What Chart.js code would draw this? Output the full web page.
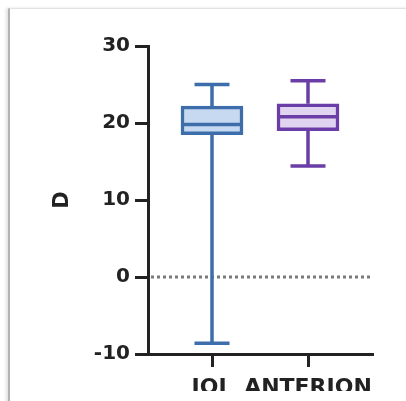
<!DOCTYPE html>
<html>
<head>
<meta charset="utf-8">
<script src="https://cdn.jsdelivr.net/npm/chart.js@4.4.0/dist/chart.umd.min.js"></script>
<style>
  body { margin: 0; background: #fff; }
  #wrap { position: relative; width: 406px; height: 401px; overflow: hidden; }
  #frame {
    position: absolute; left: 8px; top: 8px; width: 400px; height: 400px;
    border-left: 2px solid #b3b3b3; border-top: 1px solid #e2e2e2;
    box-shadow: -2px 0 3px rgba(0,0,0,0.12);
  }
  /* hinh goc bi cat o duoi */
  #clip { position: absolute; left: 0; top: 0; width: 406px; height: 391px; overflow: hidden; }
  #boxChart { position: absolute; left: 0; top: 0; }
</style>
</head>
<body>
<div id="wrap">
  <div id="frame"></div>
  <div id="clip">
    <canvas id="boxChart" width="406" height="401"></canvas>
  </div>
</div>
<script>
// du lieu doc tu hinh
var groups = ['IOL', 'ANTERION'];
var mins = [-8.6, 14.4];
var q1s = [18.5, 19.0];
var medians = [19.8, 20.8];
var q3s = [22.2, 22.5];
var maxs = [25.0, 25.5];
var yTicks = [-10, 0, 10, 20, 30];
var lineColors = ['#3d6eab', '#6a3ea6'];
var fillColors = ['#c6d9f0', '#e0d4f0'];

var axisColor = '#222';
var fontFam = "'DejaVu Sans', sans-serif";

// ve rau (whisker), duong 0 va trung vi bang scale cua chart
var boxWhiskers = {
    id: 'boxWhiskers',
    beforeDatasetsDraw(chart) {
        var ctx = chart.ctx;
        var x = chart.scales.x, y = chart.scales.y;
        var area = chart.chartArea;
        ctx.save();
        // duong cham tai 0
        ctx.strokeStyle = '#7a7a7a';
        ctx.lineWidth = 3;
        ctx.setLineDash([3, 3]);
        ctx.beginPath();
        ctx.moveTo(area.left + 3, y.getPixelForValue(0));
        ctx.lineTo(area.right, y.getPixelForValue(0));
        ctx.stroke();
        ctx.setLineDash([]);
        groups.forEach((g, i) => {
            var px = x.getPixelForValue(i);
            var capHalf = 17.5;
            ctx.strokeStyle = lineColors[i];
            ctx.lineWidth = 3.5;
            ctx.beginPath();
            ctx.moveTo(px, y.getPixelForValue(maxs[i]));
            ctx.lineTo(px, y.getPixelForValue(q3s[i]));
            ctx.moveTo(px, y.getPixelForValue(q1s[i]));
            ctx.lineTo(px, y.getPixelForValue(mins[i]));
            ctx.moveTo(px - capHalf, y.getPixelForValue(maxs[i]));
            ctx.lineTo(px + capHalf, y.getPixelForValue(maxs[i]));
            ctx.moveTo(px - capHalf, y.getPixelForValue(mins[i]));
            ctx.lineTo(px + capHalf, y.getPixelForValue(mins[i]));
            ctx.stroke();
        });
        ctx.restore();
    },
    afterDatasetsDraw(chart) {
        var ctx = chart.ctx;
        var y = chart.scales.y;
        var meta = chart.getDatasetMeta(0);
        ctx.save();
        groups.forEach((g, i) => {
            var bar = meta.data[i];
            var half = bar.width / 2;
            var py = y.getPixelForValue(medians[i]);
            ctx.strokeStyle = lineColors[i];
            ctx.lineWidth = 3.5;
            ctx.beginPath();
            ctx.moveTo(bar.x - half, py);
            ctx.lineTo(bar.x + half, py);
            ctx.stroke();
        });
        ctx.restore();
    }
};

var ctx = document.getElementById('boxChart').getContext('2d');
new Chart(ctx, {
    type: 'bar',
    data: {
        datasets: [{
            data: groups.map((g, i) => ({ x: i, y: [q1s[i], q3s[i]] })),
            backgroundColor: fillColors,
            borderColor: lineColors,
            borderWidth: 3.5,
            borderSkipped: false,
            barThickness: 62
        }]
    },
    options: {
        responsive: false,
        animation: false,
        layout: {
            padding: { left: 40, top: 46, right: 34, bottom: 0 }
        },
        plugins: {
            legend: { display: false },
            tooltip: { enabled: false }
        },
        scales: {
            x: {
                type: 'linear',
                min: -2 / 3,
                max: 5 / 3,
                offset: false,
                afterBuildTicks: function (scale) {
                    scale.ticks = groups.map((g, i) => ({ value: i }));
                },
                afterFit: function (scale) { scale.height = 47; },
                grid: {
                    offset: false,
                    drawOnChartArea: false,
                    drawTicks: true,
                    tickLength: 13,
                    lineWidth: 3,
                    color: axisColor
                },
                border: { color: axisColor, width: 3 },
                ticks: {
                    padding: 8,
                    color: axisColor,
                    maxRotation: 0,
                    autoSkip: false,
                    font: { family: fontFam, size: 22, weight: 'bold' },
                    callback: function (value) { return groups[value]; }
                }
            },
            y: {
                min: -10,
                max: 30,
                afterBuildTicks: function (scale) {
                    scale.ticks = yTicks.map(v => ({ value: v }));
                },
                afterFit: function (scale) { scale.width = 108; },
                grid: {
                    drawOnChartArea: false,
                    drawTicks: true,
                    tickLength: 13,
                    lineWidth: 3,
                    color: axisColor
                },
                border: { color: axisColor, width: 3 },
                ticks: {
                    padding: 5,
                    color: axisColor,
                    font: { family: fontFam, size: 20, weight: 'bold' }
                },
                title: {
                    display: true,
                    text: 'D',
                    color: axisColor,
                    padding: { top: 10, bottom: 0 },
                    font: { family: fontFam, size: 21, weight: 'bold' }
                }
            }
        }
    },
    plugins: [boxWhiskers]
});
</script>
</body>
</html>
